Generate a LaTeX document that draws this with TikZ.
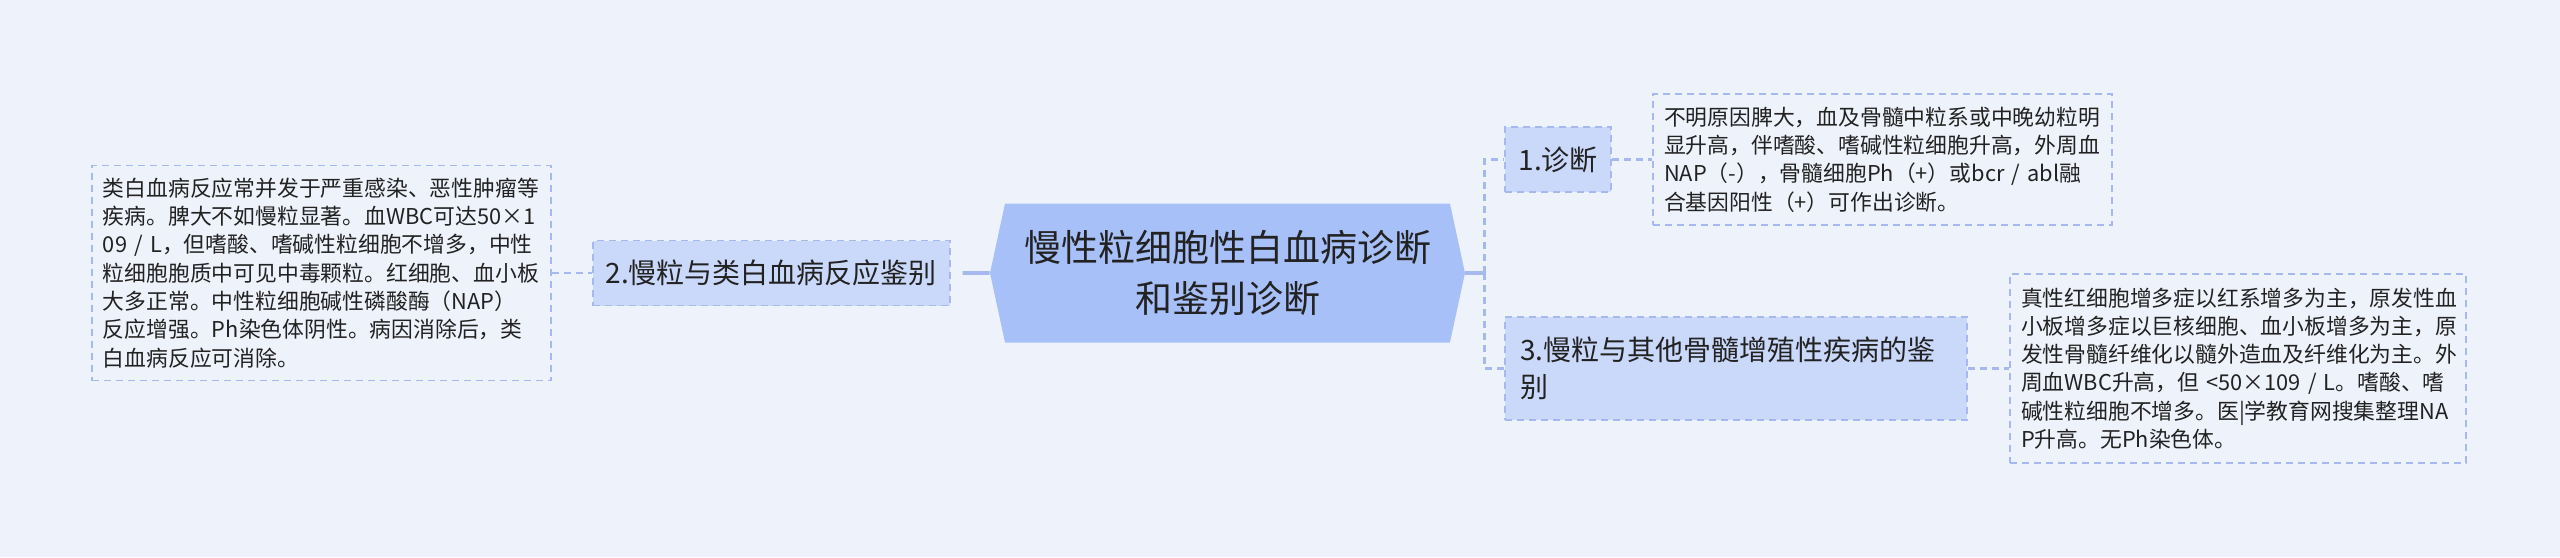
\documentclass[tikz,border=0pt]{standalone}
\usepackage{fontspec}
\setmainfont{Noto Sans CJK SC}
\usepackage{xcolor}
\usetikzlibrary{positioning,shapes.symbols}

\definecolor{canvas}{HTML}{EEF2FA}
\definecolor{hubblue}{HTML}{A8C0F8}
\definecolor{subblue}{HTML}{CAD8FA}
\definecolor{linkblue}{HTML}{A5B9EE}
\definecolor{inkgray}{HTML}{222222}

\begin{document}
\begin{tikzpicture}[
    hub/.style={shape=signal, signal to=east and west, signal pointer angle=155.6,
        fill=hubblue, minimum width=237.5pt, minimum height=69.5pt, inner sep=0pt,
        align=center, text=inkgray, font=\fontsize{18.5pt}{25.3pt}\selectfont},
    topic/.style={draw=linkblue, dash pattern=on 3.5pt off 2.5pt, line width=0.9pt,
        fill=subblue, minimum height=32.5pt, inner xsep=5.5pt, text=inkgray,
        font=\fontsize{14pt}{18.8pt}\selectfont},
    note/.style={draw=linkblue, dash pattern=on 3.5pt off 2.5pt, line width=0.8pt,
        fill=canvas, align=left, inner xsep=5.5pt, inner ysep=5pt, text=inkgray,
        font=\fontsize{10.9pt}{14.15pt}\selectfont},
    link/.style={draw=linkblue, line width=1.8pt},
    dlink/.style={draw=linkblue, line width=1.1pt, dash pattern=on 3.5pt off 2.5pt}
]
\fill[canvas] (0,0) rectangle (1280pt,-278.5pt);
\useasboundingbox (0,0) rectangle (1280pt,-278.5pt);

% Central topic
\node[hub] (hub) at (613.75pt,-136.5pt) {慢性粒细胞性白血病诊断\\和鉴别诊断};

% Left branch
\node[topic, left=19.5pt of hub, minimum width=178.5pt] (diff2) {2.慢粒与类白血病反应鉴别};
\node[note, left=20pt of diff2, text width=218.5pt, minimum height=107.5pt] (note2) {类白血病反应常并发于严重感染、恶性肿瘤等\\疾病。脾大不如慢粒显著。血WBC可达50×1\\09 / L，但嗜酸、嗜碱性粒细胞不增多，中性\\粒细胞胞质中可见中毒颗粒。红细胞、血小板\\大多正常。中性粒细胞碱性磷酸酶（NAP）\\反应增强。Ph染色体阴性。病因消除后，类\\白血病反应可消除。};

% Right branches
\node[topic, right=19.5pt of hub, yshift=56.75pt, minimum width=53pt] (diag1) {1.诊断};
\node[topic, right=19.5pt of hub, yshift=-47.75pt, inner xsep=7.5pt, text width=216pt, align=left, minimum height=51.5pt] (diff3) {3.慢粒与其他骨髓增殖性疾病的鉴\\别};
\node[note, right=20pt of diag1, text width=218.5pt, minimum height=65.5pt] (note1) {不明原因脾大，血及骨髓中粒系或中晚幼粒明\\显升高，伴嗜酸、嗜碱性粒细胞升高，外周血\\NAP（-），骨髓细胞Ph（+）或bcr / abl融\\合基因阳性（+）可作出诊断。};
\node[note, right=20.5pt of diff3, text width=217pt, minimum height=94.5pt] (note3) {真性红细胞增多症以红系增多为主，原发性血\\小板增多症以巨核细胞、血小板增多为主，原\\发性骨髓纤维化以髓外造血及纤维化为主。外\\周血WBC升高，但 <50×109 / L。嗜酸、嗜\\碱性粒细胞不增多。医|学教育网搜集整理NA\\P升高。无Ph染色体。};

% Connectors
\coordinate (jct) at ([xshift=9.5pt]hub.east);
\draw[link, shorten <=6pt] (diff2) -- (hub);
\draw[dlink] (note2) -- (diff2);
\draw[link] (hub.east) -- (jct);
\draw[dlink] (jct) |- (diag1);
\draw[dlink] (jct) |- (diff3);
\draw[dlink] (diag1) -- (note1);
\draw[dlink] (diff3) -- (note3);
\end{tikzpicture}
\end{document}
